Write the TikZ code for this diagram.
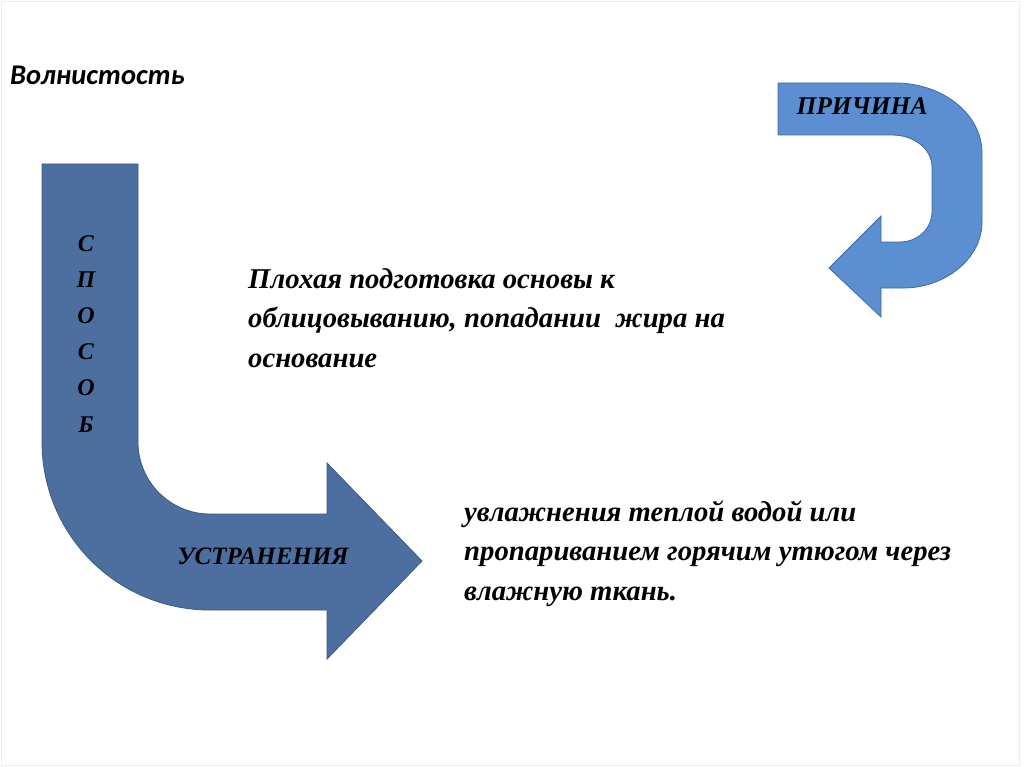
\documentclass[tikz,border=0pt]{standalone}
\usepackage{fontspec}
\setmainfont{Liberation Serif}
\newfontfamily\titlefont{Carlito}
\definecolor{darkarrow}{RGB}{76,111,160}
\definecolor{darkarrowline}{RGB}{60,88,130}
\definecolor{lightarrow}{RGB}{92,142,210}
\definecolor{lightarrowline}{RGB}{65,105,160}
\tikzset{
  bigarrow/.style={fill=darkarrow, draw=darkarrowline, line width=0.8pt, line join=miter},
  turnarrow/.style={fill=lightarrow, draw=lightarrowline, line width=0.8pt, line join=miter},
  lbl/.style={inner sep=0pt, font=\bfseries\itshape},
  bodytext/.style={inner sep=0pt, align=left, anchor=base west, font=\bfseries\itshape\fontsize{28.7}{39.5}\selectfont},
}
\begin{document}
\begin{tikzpicture}[x=1pt,y=-1pt]
\useasboundingbox (0,0) rectangle (1024,767);
\fill[white] (0,0) rectangle (1024,767);
\draw[black!7, line width=1pt] (1.5,1.5) rectangle (1019,765);
% title
\node[inner sep=0pt, anchor=base west, font=\titlefont\bfseries\itshape\fontsize{28.5}{32}\selectfont] (title) at (10,85) {Волнистость};
% left bent arrow
\draw[bigarrow] (42,164) -- (138,164) -- (138,442)
  .. controls (138,481.8) and (170.2,514) .. (210,514)
  -- (327,514) -- (327,463) -- (422,561) -- (327,659) -- (327,610) -- (210,610)
  .. controls (117.2,610) and (42,534.8) .. (42,442) -- cycle;
% right U-turn arrow
\draw[turnarrow] (778,83) -- (895,83)
  .. controls (943,83) and (982,114.3) .. (982,153) -- (982,222)
  .. controls (982,258) and (946,288) .. (903,288)
  -- (881,288) -- (881,317) -- (829,268) -- (881,216) -- (881,242) -- (900,242)
  .. controls (918,242) and (932,228) .. (932,212) -- (932,167)
  .. controls (932,149) and (914,135) .. (892,135) -- (778,135) -- cycle;
% labels on arrows
\node[lbl, align=center, font=\bfseries\itshape\fontsize{24}{36.2}\selectfont, anchor=base] (sposob) at (86,432) {С\\П\\О\\С\\О\\Б};
\node[lbl, font=\bfseries\itshape\fontsize{25}{28}\selectfont, anchor=base] (ustr) at (263,564) {УСТРАНЕНИЯ};
\node[lbl, font=\bfseries\itshape\fontsize{25.5}{28}\selectfont, anchor=base] (prich) at (862,115) {ПРИЧИНА};
% body texts
\node[bodytext] (cause) at (248,367) {Плохая подготовка основы к\\облицовыванию, попадании\ \ жира на\\основание};
\node[bodytext] (remedy) at (464,600) {увлажнения теплой водой или\\пропариванием горячим утюгом через\\влажную ткань.};
\end{tikzpicture}
\end{document}
